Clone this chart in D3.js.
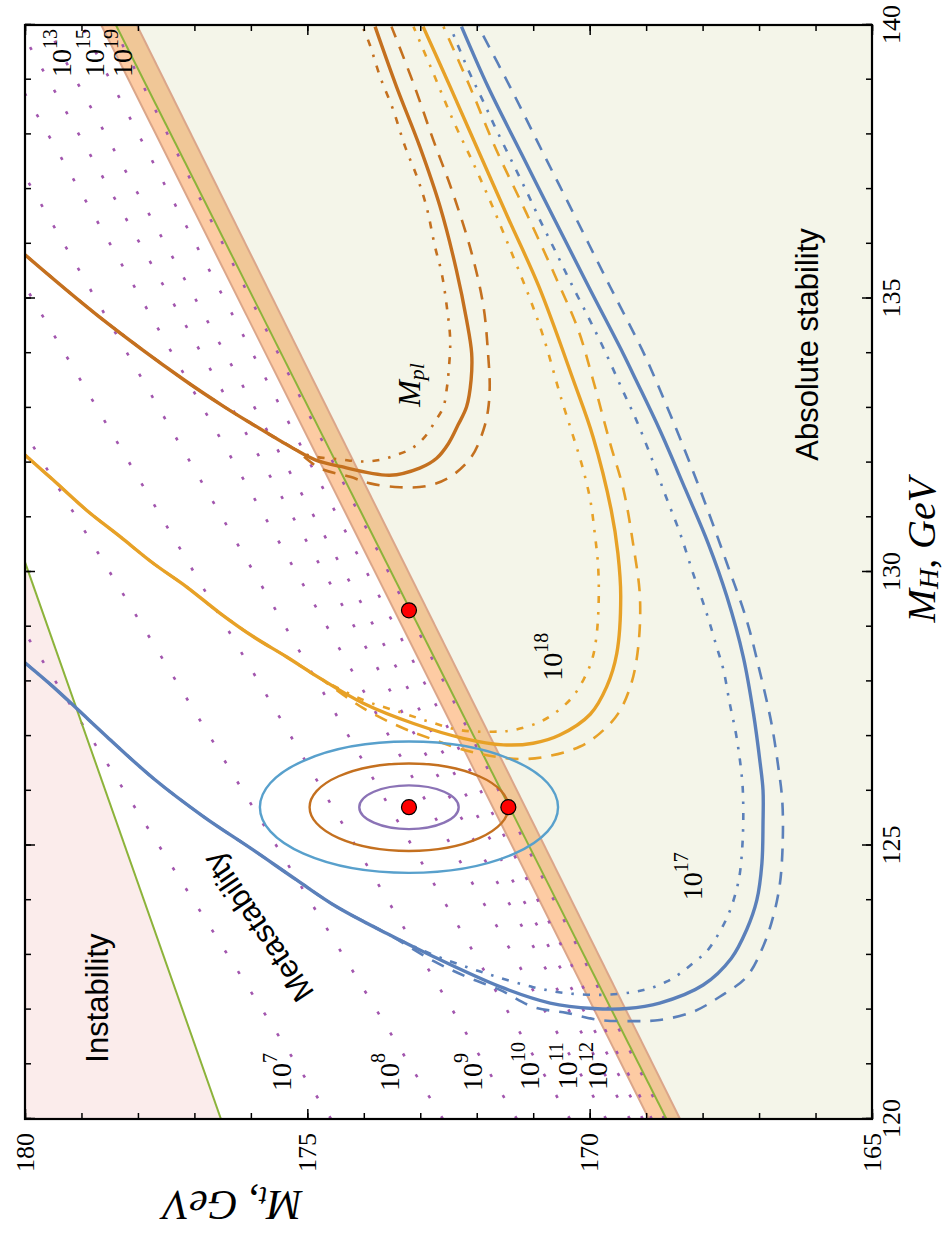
<!DOCTYPE html>
<html lang="en">
<head>
  <meta charset="utf-8">
  <script src="https://d3js.org/d3.v7.min.js"></script>
  <style>
    body { margin: 0; background: #fff; }
    .serif { font-family: "Liberation Serif", "DejaVu Serif", serif; }
    .sans { font-family: "Liberation Sans", Arial, sans-serif; }
  </style>
</head>
<body>
<script>

// ---- data (MH, Mt in GeV) ----
var mhMajor = [120, 125, 130, 135, 140];
var mtMajor = [165, 170, 175, 180];

var centralPoint = [125.7, 173.2];
var ellipseSemiMH = [0.4, 0.8, 1.2];
var ellipseSemiMt = [0.88, 1.76, 2.64];

var redPoints = [[125.7, 173.2], [125.7, 171.44], [129.3, 173.2]];

var instabilityLine = [[120, 176.53], [130.18, 180]];
var stabilityLine = [[120, 168.64], [140, 178.39]];
var bandUpper = [[120, 168.95], [140, 178.65]];
var bandLower = [[120, 168.40], [140, 178.02]];

// instability scale contours, 10^n GeV
var lambdaExp   = [7, 8, 9, 10, 11, 12, 13, 15, 19];
var lambdaMt120 = [174.58, 172.60, 171.29, 170.35, 169.71, 169.29, 169.06, 168.90, 168.68];
var lambdaMt140 = [186.78, 184.40, 182.73, 181.55, 180.69, 180.13, 179.63, 179.00, 178.45];

// M_pl curves
var brownLeft = [[135.80,180.00],[134.67,178.69],[133.51,177.18],[133.02,176.47],[132.72,176.00],[132.26,175.25]];
var brownSolid = brownLeft.concat([[132.05,174.86],[131.93,174.42],[131.77,173.54],[131.90,173.01],[132.08,172.71],[132.35,172.50],[132.69,172.33],[133.02,172.18],[133.51,172.10],[134.00,172.09],[134.61,172.18],[135.52,172.36],[136.68,172.65],[137.78,173.01],[138.87,173.42],[139.97,173.80]]);
var brownDashed = brownLeft.concat([[131.90,174.78],[131.74,174.24],[131.62,173.89],[131.55,173.36],[131.57,172.89],[131.74,172.47],[132.11,172.09],[132.60,171.88],[132.96,171.80],[133.39,171.77],[134.00,171.80],[134.85,171.88],[135.83,172.09],[136.92,172.42],[137.90,172.77],[138.93,173.12],[139.97,173.51]]);
var brownDashDot = brownLeft.concat([[132.12,174.92],[132.06,174.42],[132.02,174.04],[132.05,173.71],[132.14,173.42],[132.26,173.15],[132.47,172.92],[132.75,172.74],[133.02,172.59],[133.36,172.53],[133.64,172.50],[134.24,172.47],[134.85,172.53],[135.46,172.62],[135.95,172.74],[136.68,172.89],[137.23,173.06],[137.78,173.27],[138.45,173.48],[139.05,173.71],[139.63,173.89],[139.94,174.01]]);

// 10^18 curves
var yellowLeft = [[132.14,180.00],[131.68,179.50],[131.13,178.91],[130.65,178.32],[130.16,177.73],[129.73,177.14],[129.25,176.55],[128.82,175.96],[128.45,175.37],[128.06,174.78]];
var yellowSolid = yellowLeft.concat([[127.60,174.01],[127.23,173.12],[126.96,172.24],[126.84,171.53],[126.87,171.00],[127.02,170.53],[127.40,169.99],[127.90,169.70],[128.51,169.52],[129.55,169.45],[130.34,169.50],[131.14,169.62],[132.47,169.94],[133.51,170.29],[135.22,170.90],[136.44,171.43],[137.65,171.95],[138.87,172.47],[139.97,172.95]]);
var yellowDashed = yellowLeft.concat([[127.51,174.01],[127.17,173.36],[126.96,172.83],[126.75,172.24],[126.62,171.65],[126.58,171.18],[126.64,170.70],[126.81,170.17],[127.05,169.82],[127.42,169.49],[127.97,169.26],[128.63,169.14],[129.55,169.11],[130.51,169.23],[131.50,169.40],[132.36,169.64],[133.51,169.94],[134.42,170.20],[135.34,170.58],[136.56,171.12],[137.71,171.65],[138.87,172.12],[139.97,172.59]]);
var yellowDashDot = yellowLeft.concat([[127.66,174.01],[127.44,173.36],[127.26,172.83],[127.11,172.30],[127.08,171.71],[127.11,171.35],[127.29,170.82],[127.66,170.35],[128.03,170.11],[128.39,169.96],[128.82,169.88],[129.49,169.84],[130.10,169.85],[130.71,169.91],[131.32,169.99],[131.93,170.13],[132.54,170.31],[133.16,170.50],[134.30,170.82],[135.03,171.07],[135.83,171.38],[136.68,171.72],[137.47,172.06],[138.26,172.42],[139.12,172.77],[139.97,173.12]]);

// 10^17 curves
var blueLeft = [[128.34,180.00],[127.90,179.50],[127.48,179.06],[126.99,178.55],[126.23,177.73],[125.53,176.84],[124.92,175.96],[124.37,175.19],[123.88,174.48],[123.39,173.59]];
var blueSolid = blueLeft.concat([[122.97,172.77],[122.42,171.59],[122.12,170.70],[122.02,169.94],[122.02,169.34],[122.12,168.76],[122.45,167.99],[122.94,167.49],[123.46,167.22],[124.00,167.04],[124.67,166.95],[125.41,166.93],[126.01,166.93],[126.50,166.98],[127.42,167.10],[128.45,167.28],[129.55,167.57],[130.52,167.90],[131.50,168.30],[132.60,168.76],[133.51,169.18],[134.00,169.41],[135.22,170.02],[136.44,170.62],[137.65,171.21],[138.87,171.80],[139.97,172.27]]);
var blueDashed = blueLeft.concat([[122.89,172.77],[122.60,172.18],[122.36,171.59],[122.05,171.00],[121.94,170.41],[121.81,169.82],[121.79,169.23],[121.81,168.76],[121.96,168.17],[122.24,167.69],[122.60,167.22],[123.15,166.93],[123.70,166.75],[124.31,166.63],[125.10,166.58],[125.83,166.59],[126.44,166.66],[127.23,166.78],[128.15,166.98],[129.12,167.22],[130.16,167.57],[131.19,167.93],[132.29,168.34],[133.51,168.83],[134.06,169.07],[135.22,169.64],[136.44,170.23],[137.65,170.82],[138.87,171.41],[139.97,171.97]]);
var blueDashDot = blueLeft.concat([[123.00,172.77],[122.78,172.18],[122.60,171.65],[122.41,171.00],[122.30,170.41],[122.27,169.76],[122.32,169.23],[122.39,168.93],[122.51,168.64],[122.66,168.40],[122.85,168.17],[123.06,167.93],[123.33,167.75],[123.61,167.60],[123.88,167.49],[124.19,167.40],[124.49,167.34],[125.10,167.29],[125.71,167.28],[126.20,167.30],[126.99,167.40],[127.60,167.52],[128.21,167.63],[128.63,167.75],[129.25,167.93],[129.98,168.17],[130.71,168.40],[131.38,168.65],[131.99,168.87],[132.72,169.15],[133.33,169.42],[134.06,169.74],[134.61,170.00],[135.28,170.33],[135.83,170.59],[136.37,170.85],[136.92,171.10],[137.47,171.36],[138.08,171.65],[138.57,171.87],[139.18,172.15],[139.97,172.47]]);

// ---- layout: chart drawn upright, then turned a quarter turn ----
var W = 1094, H = 847;

var x = d3.scaleLinear().domain([120, 140]).range([0, W]);
var y = d3.scaleLinear().domain([165, 180]).range([H, 0]);

var svg = d3.select("body").append("svg")
    .attr("width", 952)
    .attr("height", 1247);

var g = svg.append("g")
    .attr("transform", "translate(25,1119) rotate(-90)");

g.append("clipPath").attr("id", "plotclip")
  .append("rect").attr("width", W).attr("height", H);

var plot = g.append("g").attr("clip-path", "url(#plotclip)");

var line = d3.line()
    .x(function(d) { return x(d[0]); })
    .y(function(d) { return y(d[1]); });

var smooth = d3.line()
    .x(function(d) { return x(d[0]); })
    .y(function(d) { return y(d[1]); })
    .curve(d3.curveCatmullRom.alpha(0.5));

function at(mh, mt) { return "translate(" + x(mh) + "," + y(mt) + ")"; }

// regions
plot.append("path")
    .attr("d", line([[120, 180]].concat(instabilityLine)) + "Z")
    .attr("fill", "#fbeceb");

plot.append("path")
    .attr("d", line([[120, 165]].concat(stabilityLine, [[140, 165]])) + "Z")
    .attr("fill", "#f4f5e9");

plot.append("path")
    .attr("d", line(bandUpper.concat(stabilityLine.slice().reverse())) + "Z")
    .attr("fill", "#fdcba3");

plot.append("path")
    .attr("d", line(stabilityLine.concat(bandLower.slice().reverse())) + "Z")
    .attr("fill", "#f0c797");

[bandUpper, bandLower].forEach(function(b) {
  plot.append("path").attr("d", line(b))
      .attr("fill", "none").attr("stroke", "#dba68a").attr("stroke-width", 2);
});

// instability scale contours
lambdaExp.forEach(function(n, i) {
  plot.append("path")
      .attr("d", line([[120, lambdaMt120[i]], [140, lambdaMt140[i]]]))
      .attr("fill", "none")
      .attr("stroke", "#a256ae")
      .attr("stroke-width", 2.6)
      .attr("stroke-dasharray", "3.2,21.3");
});

// boundary lines
[instabilityLine, stabilityLine].forEach(function(l) {
  plot.append("path").attr("d", line(l))
      .attr("fill", "none").attr("stroke", "#8cb33a").attr("stroke-width", 2);
});

// curve families
var families = [
  {color: "#c4701f", solid: brownSolid, dashed: brownDashed, dashdot: brownDashDot},
  {color: "#e7a127", solid: yellowSolid, dashed: yellowDashed, dashdot: yellowDashDot},
  {color: "#5b80ba", solid: blueSolid, dashed: blueDashed, dashdot: blueDashDot}
];

families.forEach(function(f) {
  plot.append("path").attr("d", smooth(f.dashed))
      .attr("fill", "none").attr("stroke", f.color)
      .attr("stroke-width", 2.6).attr("stroke-dasharray", "13,10");
  plot.append("path").attr("d", smooth(f.dashdot))
      .attr("fill", "none").attr("stroke", f.color)
      .attr("stroke-width", 2.6).attr("stroke-dasharray", "7,9,2.5,9");
  plot.append("path").attr("d", smooth(f.solid))
      .attr("fill", "none").attr("stroke", f.color)
      .attr("stroke-width", 3.4).attr("stroke-linejoin", "round");
});

// confidence ellipses
var ellipseColors = ["#8b73b6", "#c4701f", "#58a0cc"];
ellipseSemiMH.forEach(function(a, i) {
  plot.append("ellipse")
      .attr("cx", x(centralPoint[0]))
      .attr("cy", y(centralPoint[1]))
      .attr("rx", x(centralPoint[0] + a) - x(centralPoint[0]))
      .attr("ry", y(centralPoint[1]) - y(centralPoint[1] + ellipseSemiMt[i]))
      .attr("fill", "none")
      .attr("stroke", ellipseColors[i])
      .attr("stroke-width", 2.4);
});

plot.selectAll(".pt")
    .data(redPoints)
  .enter().append("circle")
    .attr("cx", function(d) { return x(d[0]); })
    .attr("cy", function(d) { return y(d[1]); })
    .attr("r", 7.5)
    .attr("fill", "#ff0000")
    .attr("stroke", "#000")
    .attr("stroke-width", 1.2);

// region labels
function sansLabel(txt, mh, mt, rot) {
  plot.append("text")
      .attr("class", "sans")
      .attr("transform", at(mh, mt) + (rot ? " rotate(" + rot + ")" : ""))
      .attr("text-anchor", "middle")
      .attr("dominant-baseline", "central")
      .attr("font-size", 31)
      .text(txt);
}
sansLabel("Instability", 122.21, 178.71);
sansLabel("Metastability", 123.51, 175.87, -34);
sansLabel("Absolute stability", 134.16, 166.15);

// power-of-ten labels
function powLabel(n, mh, mt) {
  var t = plot.append("text")
      .attr("class", "serif")
      .attr("transform", at(mh, mt))
      .attr("text-anchor", "middle")
      .attr("dominant-baseline", "central")
      .attr("font-size", 28);
  t.append("tspan").text("10");
  t.append("tspan").attr("font-size", 20).attr("dy", -11).text(n);
}
powLabel(7, 120.86, 175.47);
powLabel(8, 120.86, 173.55);
powLabel(9, 120.86, 172.08);
powLabel(10, 120.97, 171.07);
powLabel(11, 120.97, 170.40);
powLabel(12, 120.97, 169.87);
powLabel(13, 139.49, 179.36);
powLabel(15, 139.49, 178.78);
powLabel(19, 139.49, 178.29);
powLabel(18, 128.45, 170.67);
powLabel(17, 124.44, 168.19);

var mpl = plot.append("text")
    .attr("class", "serif")
    .attr("transform", at(133.42, 173.20))
    .attr("text-anchor", "middle")
    .attr("dominant-baseline", "central")
    .attr("font-size", 32)
    .attr("font-style", "italic");
mpl.append("tspan").text("M");
mpl.append("tspan").attr("font-size", 22).attr("dy", 7).text("pl");

// axes (ticks inward on all four sides)
function styleAxis(sel) {
  sel.select(".domain").remove();
  sel.attr("font-family", "Liberation Serif, DejaVu Serif, serif").attr("font-size", 26);
  sel.selectAll(".tick line").attr("stroke-width", 1.5);
}

var minorMH = d3.range(120, 141, 1);
var minorMt = d3.range(165, 181, 1);

g.append("g").attr("transform", "translate(0," + H + ")")
    .call(d3.axisBottom(x).tickValues(minorMH).tickSize(-6).tickFormat(""))
    .call(styleAxis);
g.append("g").attr("transform", "translate(0," + H + ")")
    .call(d3.axisBottom(x).tickValues(mhMajor).tickSize(-10).tickPadding(10).tickFormat(d3.format("d")))
    .call(styleAxis);
g.append("g")
    .call(d3.axisTop(x).tickValues(minorMH).tickSize(-6).tickFormat(""))
    .call(styleAxis);
g.append("g")
    .call(d3.axisTop(x).tickValues(mhMajor).tickSize(-10).tickFormat(""))
    .call(styleAxis);

g.append("g")
    .call(d3.axisLeft(y).tickValues(minorMt).tickSize(-6).tickFormat(""))
    .call(styleAxis);
g.append("g")
    .call(d3.axisLeft(y).tickValues(mtMajor).tickSize(-10).tickPadding(14).tickFormat(d3.format("d")))
    .call(styleAxis);
g.append("g").attr("transform", "translate(" + W + ",0)")
    .call(d3.axisRight(y).tickValues(minorMt).tickSize(-6).tickFormat(""))
    .call(styleAxis);
g.append("g").attr("transform", "translate(" + W + ",0)")
    .call(d3.axisRight(y).tickValues(mtMajor).tickSize(-10).tickFormat(""))
    .call(styleAxis);

g.append("rect")
    .attr("width", W).attr("height", H)
    .attr("fill", "none").attr("stroke", "#000").attr("stroke-width", 2.2);

// axis titles
var xt = g.append("text")
    .attr("class", "serif")
    .attr("transform", "translate(" + x(130.4) + "," + (H + 49) + ")")
    .attr("text-anchor", "middle")
    .attr("dominant-baseline", "central")
    .attr("font-size", 40)
    .attr("font-style", "italic");
xt.append("tspan").text("M");
xt.append("tspan").attr("font-size", 28).attr("dy", 7).text("H");
xt.append("tspan").attr("dy", -7).attr("font-style", "normal").text(", ");
xt.append("tspan").text("GeV");

var yt = g.append("text")
    .attr("class", "serif")
    .attr("transform", "translate(-86," + y(176.32) + ") rotate(-90)")
    .attr("text-anchor", "middle")
    .attr("dominant-baseline", "central")
    .attr("font-size", 42)
    .attr("font-style", "italic");
yt.append("tspan").text("M");
yt.append("tspan").attr("font-size", 29).attr("dy", 8).text("t");
yt.append("tspan").attr("dy", -8).attr("font-style", "normal").text(", ");
yt.append("tspan").text("GeV");

</script>
</body>
</html>
